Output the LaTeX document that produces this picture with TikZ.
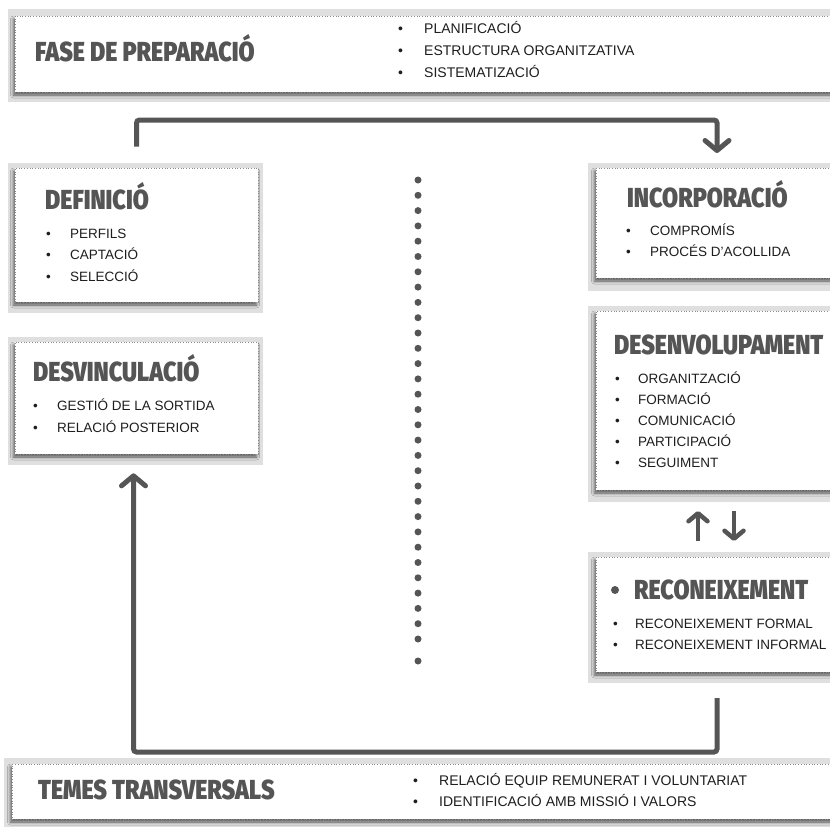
\documentclass[tikz,border=0pt]{standalone}
\usepackage{fontspec}
\setmainfont{Liberation Sans}
\newfontfamily\headfont{Fira Sans Black}[FakeStretch=0.845]
\usetikzlibrary{arrows.meta,shadows.blur,fit,calc}
\definecolor{ink}{HTML}{555555}
\definecolor{bodyink}{HTML}{1E1E1E}
\definecolor{framegrey}{HTML}{DFDFDF}
\definecolor{edgegrey}{HTML}{8A8A8A}

\tikzset{
  panel/.style={rectangle, draw=edgegrey, dotted, line width=0.7pt, fill=white, inner sep=0pt,
    blur shadow={shadow xshift=-1.5pt, shadow yshift=-3pt, shadow blur radius=3pt, shadow opacity=60}},
  backframe/.style={fill=framegrey},
  head/.style={anchor=base west, inner sep=0pt, text=ink, font=\headfont\fontsize{27.5}{27.5}\selectfont},
  item/.style={anchor=base west, inner sep=0pt, text=bodyink, font=\fontsize{13.5}{13.5}\selectfont},
  wideitem/.style={item, font=\fontsize{14}{14}\selectfont},
  flow/.style={draw=ink, line width=5pt, rounded corners=3pt, -{Straight Barb[length=10pt,width=24pt,round]}},
  swap/.style={draw=ink, line width=4.5pt, -{Straight Barb[length=8pt,width=19pt,round]}},
  dotmark/.style={circle, fill=ink, inner sep=0pt, minimum size=7pt},
}

% one bullet line: style, name, x, baseline y, bullet-to-text gap, text
\newcommand\bulletrow[6]{\node[#1] (#2) at (#3,#4) {\makebox[#5pt][l]{\textbullet}#6};}

\begin{document}
\begin{tikzpicture}[x=1pt,y=-1pt]
\useasboundingbox (0,0) rectangle (830,827);
\fill[white] (0,0) rectangle (830,827);

% light frames behind the panels
\fill[backframe] (8,9) rectangle (850,102);
\fill[backframe] (8,163) rectangle (263,313);
\fill[backframe] (8,337) rectangle (263,465);
\fill[backframe] (588,163) rectangle (850,291);
\fill[backframe] (588,306) rectangle (850,502);
\fill[backframe] (588,552) rectangle (850,683);
\fill[backframe] (4,758) rectangle (850,830);

% panels
\node[panel, fit={(15,16) (845,92)}] (prep) {};
\node[panel, fit={(15,168) (258,302)}] (defin) {};
\node[panel, fit={(15,342) (258,454)}] (desv) {};
\node[panel, fit={(596,168) (845,278)}] (incorp) {};
\node[panel, fit={(596,311) (845,490)}] (desen) {};
\node[panel, fit={(596,557) (845,672)}] (recon) {};
\node[panel, fit={(12,764) (845,819)}] (temes) {};

% preparation phase
\node[head] (prephead) at (35,61) {FASE DE PREPARACIÓ};
\bulletrow{wideitem}{p1}{398}{33}{26}{PLANIFICACIÓ}
\bulletrow{wideitem}{p2}{398}{55}{26}{ESTRUCTURA ORGANITZATIVA}
\bulletrow{wideitem}{p3}{398}{77}{26}{SISTEMATIZACIÓ}

% definition
\node[head] (defhead) at (45,209) {DEFINICIÓ};
\bulletrow{item}{d1}{46}{238}{24}{PERFILS}
\bulletrow{item}{d2}{46}{259}{24}{CAPTACIÓ}
\bulletrow{item}{d3}{46}{281}{24}{SELECCIÓ}

% leaving
\node[head] (desvhead) at (33,381) {DESVINCULACIÓ};
\bulletrow{item}{v1}{33}{410}{24}{GESTIÓ DE LA SORTIDA}
\bulletrow{item}{v2}{33}{432}{24}{RELACIÓ POSTERIOR}

% joining
\node[head] (inchead) at (627,207) {INCORPORACIÓ};
\bulletrow{item}{i1}{626}{235}{24}{COMPROMÍS}
\bulletrow{item}{i2}{626}{256}{24}{PROCÉS D’ACOLLIDA}

% development
\node[head] (desenhead) at (614,354) {DESENVOLUPAMENT};
\bulletrow{item}{e1}{615}{383}{23}{ORGANITZACIÓ}
\bulletrow{item}{e2}{615}{404}{23}{FORMACIÓ}
\bulletrow{item}{e3}{615}{425}{23}{COMUNICACIÓ}
\bulletrow{item}{e4}{615}{446}{23}{PARTICIPACIÓ}
\bulletrow{item}{e5}{615}{467}{23}{SEGUIMENT}

% recognition
\node[circle, fill=ink, inner sep=0pt, minimum size=8pt] (recbul) at (615,590) {};
\node[head] (rechead) at (634,599) {RECONEIXEMENT};
\bulletrow{item}{r1}{613}{628}{22}{RECONEIXEMENT FORMAL}
\bulletrow{item}{r2}{613}{649}{22}{RECONEIXEMENT INFORMAL}

% cross-cutting topics
\node[head] (temhead) at (38,799) {TEMES TRANSVERSALS};
\bulletrow{wideitem}{t1}{413}{785}{26}{RELACIÓ EQUIP REMUNERAT I VOLUNTARIAT}
\bulletrow{wideitem}{t2}{413}{806}{26}{IDENTIFICACIÓ AMB MISSIÓ I VALORS}

% dotted divider
\foreach \i in {0,...,30}
  \node[dotmark] (dv\i) at (418,{180+15.3*\i}) {};
\node[dotmark] (dvlast) at (418,661) {};

% cycle connectors
\coordinate (defout) at ($(defin.north)+(0,-21)$);
\coordinate (incin) at (717,153);
\draw[flow] (defout) |- (717,120) -- (incin);

\coordinate (recout) at (717,698);
\coordinate (desvin) at ($(desv.south)+(-3,19)$);
\draw[flow] (recout) -- (717,752) -| (desvin);

% exchange between development and recognition
\coordinate (upfrom) at (698,541);
\coordinate (upto) at (698,511);
\coordinate (downfrom) at (734,511);
\coordinate (downto) at (734,541);
\draw[swap] (upfrom) -- (upto);
\draw[swap] (downfrom) -- (downto);
\end{tikzpicture}
\end{document}
